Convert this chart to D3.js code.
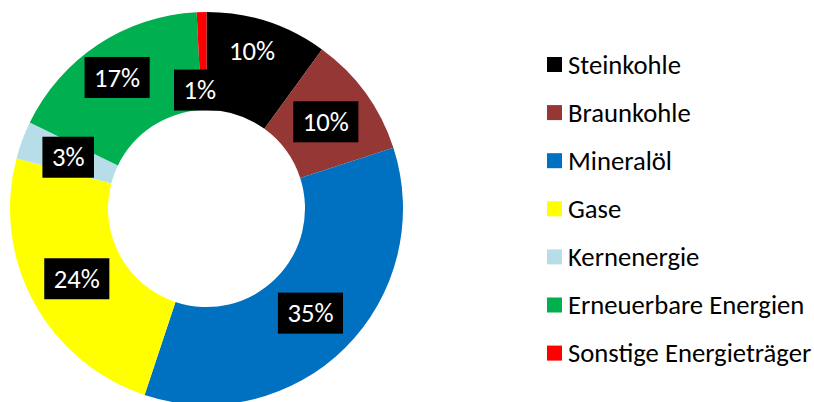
<!DOCTYPE html>
<html>
<head>
<meta charset="utf-8">
<title>Energiemix</title>
<style>
  body { margin: 0; background: #fff; }
  svg { display: block; }
  text { font-family: Carlito, Calibri, "Open Sans", sans-serif; }
</style>
</head>
<body>
<div id="chart"></div>
<script src="https://cdn.jsdelivr.net/npm/d3@7"></script>
<script>
// data (percent of total)
var categories = ["Steinkohle", "Braunkohle", "Mineralöl", "Gase", "Kernenergie", "Erneuerbare Energien", "Sonstige Energieträger"];
var shares = [10.0, 10.0, 35.1, 24.0, 3.1, 17.0, 0.8];
var colors = ["#000000", "#953735", "#0070c0", "#ffff00", "#b7dee8", "#00b050", "#ff0000"];

var width = 814, height = 402;
var cx = 206.5, cy = 208.5, outerR = 196.5, innerR = 98.5;
var fontSize = "26.67px"; // 20pt

// labels the original author dragged away from the default spot
var labelNudge = {
  "Steinkohle": [0, -17],
  "Erneuerbare Energien": [-8, -8],
  "Sonstige Energieträger": [-3, 29]
};

var rows = categories.map(function(c, i) { return {name: c, value: shares[i], color: colors[i]}; });

var svg = d3.select("#chart").append("svg")
    .attr("width", width)
    .attr("height", height);

var pie = d3.pie().sort(null).value(function(d) { return d.value; });
var arc = d3.arc().innerRadius(innerR).outerRadius(outerR);
var labelArc = d3.arc().innerRadius((innerR + outerR) / 2).outerRadius((innerR + outerR) / 2);

var g = svg.append("g").attr("transform", "translate(" + cx + "," + cy + ")");
var slices = pie(rows);

g.selectAll("path.slice")
  .data(slices)
  .enter().append("path")
    .attr("class", "slice")
    .attr("d", arc)
    .attr("fill", function(d) { return d.data.color; });

var fmt = function(v) { return Math.round(v) + "%"; };

var labels = g.selectAll("g.lbl")
  .data(slices)
  .enter().append("g")
    .attr("class", "lbl")
    .attr("transform", function(d) {
      var p = labelArc.centroid(d);
      var n = labelNudge[d.data.name] || [0, 0];
      return "translate(" + (p[0] + n[0]) + "," + (p[1] + n[1]) + ")";
    });

labels.append("rect").attr("fill", "#000");
labels.append("text")
    .attr("text-anchor", "middle")
    .attr("dy", "0.34em")
    .attr("fill", "#fff")
    .style("font-size", fontSize)
    .text(function(d) { return fmt(d.data.value); });

labels.each(function() {
  var t = d3.select(this).select("text").node().getBBox();
  d3.select(this).select("rect")
    .attr("x", -t.width / 2 - 9.5)
    .attr("y", -20.5)
    .attr("width", t.width + 19)
    .attr("height", 41);
});

// legend
var legend = svg.append("g").attr("transform", "translate(547,64.5)");
var item = legend.selectAll("g")
  .data(rows)
  .enter().append("g")
    .attr("transform", function(d, i) { return "translate(0," + (i * 48.1) + ")"; });

item.append("rect")
    .attr("x", 0).attr("y", -7.5)
    .attr("width", 15).attr("height", 15)
    .attr("fill", function(d) { return d.color; });

item.append("text")
    .attr("x", 21)
    .attr("dy", "0.34em")
    .attr("fill", "#000")
    .style("font-size", fontSize)
    .text(function(d) { return d.name; });
</script>
</body>
</html>
